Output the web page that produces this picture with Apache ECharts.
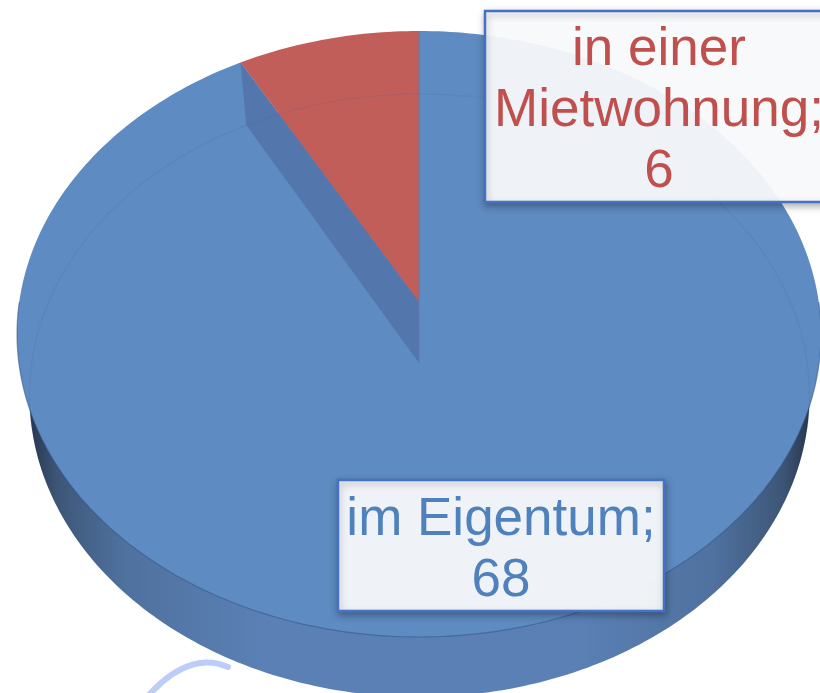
<!DOCTYPE html>
<html>
<head>
<meta charset="utf-8">
<title>Wohnsituation</title>
<style>
  html, body { margin: 0; padding: 0; background: #fff; }
  #chart { width: 820px; height: 693px; overflow: hidden; }
</style>
<script src="https://cdn.jsdelivr.net/npm/echarts@6/dist/echarts.min.js"></script>
</head>
<body>
<div id="chart"></div>
<script>
const categories = ['im Eigentum', 'in einer\nMietwohnung']
const values = [68, 6]

const total = values.reduce((a, b) => a + b, 0)

// top face and floor of the disc, k is the perspective shift of the centre
const topFace = { cx: 419, cy: 334, rx: 402, ry: 303 }
const floorFace = { cx: 419.5, cy: 395.5, rx: 390, ry: 301.5 }
const k = 0.1056

const sliceColors = ['#5e8bc1', '#c25e5a']
const textColors = ['#4f81bd', '#c0504d']
const labelBoxes = [
  { x: 338, y: 480, width: 326, height: 131, textY: 550.5 },
  { x: 485, y: 11, width: 350, height: 191, textY: 111.5, textX: 659 }
]

// fraction of the full turn (clockwise from 12 o'clock) to a pixel on the ellipse
function project (frac, face) {
  const a = frac * Math.PI * 2
  const X = Math.sin(a)
  const Y = Math.cos(a)
  const w = 1 + k * Y
  const u = Math.sqrt(1 - k * k) * X / w
  const v = (Y + k) / w
  return [face.cx + face.rx * u, face.cy - face.ry * v]
}

function arcPoints (from, to, face) {
  const steps = Math.max(2, Math.ceil((to - from) * 360))
  const pts = []
  for (let i = 0; i <= steps; i++) {
    pts.push(project(from + (to - from) * i / steps, face))
  }
  return pts
}

function centre (face) {
  return [face.cx, face.cy - face.ry * k]
}

const sideGradient = new echarts.graphic.LinearGradient(0, 0, 1, 0, [
  { offset: 0, color: '#27374f' },
  { offset: 0.035, color: '#3d5677' },
  { offset: 0.12, color: '#4f719e' },
  { offset: 0.3, color: '#5a80b5' },
  { offset: 0.7, color: '#5a80b5' },
  { offset: 0.88, color: '#4f719e' },
  { offset: 0.965, color: '#3d5677' },
  { offset: 1, color: '#27374f' }
])

function renderSlice (params, api) {
  const i = params.dataIndex
  const from = api.value(0) / total
  const to = api.value(1) / total
  const children = []

  if (i === 0) {
    // rim of the disc
    children.push({
      type: 'polygon',
      shape: { points: arcPoints(0, 1, floorFace) },
      style: { fill: sideGradient }
    })
  }

  children.push({
    type: 'polygon',
    shape: { points: [centre(topFace)].concat(arcPoints(from, to, topFace)) },
    style: { fill: sliceColors[i] }
  })

  if (i === 0) {
    // front edge of the top face
    children.push({
      type: 'polyline',
      shape: { points: arcPoints(0.25, 0.75, topFace) },
      style: { fill: null, stroke: 'rgba(50,85,135,0.55)', lineWidth: 1.2 }
    })
  } else {
    // cut face next to the small slice
    const a = project(from, topFace)
    const b = project(from, floorFace)
    children.push({
      type: 'polygon',
      shape: { points: [a, b, centre(floorFace), centre(topFace)] },
      style: { fill: '#5377ad' }
    })
    // far edge of the floor shows through the top face
    children.push({
      type: 'polyline',
      shape: { points: arcPoints(-0.285, 0.285, floorFace) },
      style: { fill: null, stroke: 'rgba(60,90,150,0.13)', lineWidth: 1.2 }
    })
    // blue seam on the vertical edge
    children.push({
      type: 'line',
      shape: { x1: topFace.cx, y1: project(0, topFace)[1], x2: topFace.cx, y2: centre(topFace)[1] },
      style: { stroke: 'rgba(80,120,180,0.7)', lineWidth: 1 }
    })
  }
  return { type: 'group', children: children }
}

function renderLabel (params, api) {
  const i = params.dataIndex
  const box = labelBoxes[i]
  return {
    type: 'group',
    children: [
      {
        type: 'rect',
        shape: { x: box.x, y: box.y, width: box.width, height: box.height },
        style: {
          fill: 'rgba(253,254,255,0.93)',
          stroke: '#4472c4',
          lineWidth: 2.5,
          shadowBlur: 7,
          shadowOffsetX: 1,
          shadowOffsetY: 3,
          shadowColor: 'rgba(0,0,0,0.3)'
        }
      },
      {
        type: 'text',
        style: {
          x: box.textX || box.x + box.width / 2,
          y: box.textY,
          text: categories[i] + ';\n' + api.value(0),
          fill: textColors[i],
          font: '53px "Liberation Sans", Arial, sans-serif',
          lineHeight: 61,
          align: 'center',
          verticalAlign: 'middle'
        }
      }
    ]
  }
}

const sliceData = []
let running = 0
values.forEach(v => {
  sliceData.push([running, running + v])
  running += v
})

const chart = echarts.init(document.getElementById('chart'), null, { renderer: 'canvas' })
chart.setOption({
  backgroundColor: '#ffffff',
  animation: false,
  tooltip: { show: false },
  // pen stroke left on the slide under the disc
  graphic: [{
    type: 'bezierCurve',
    z: 0,
    shape: { x1: 148, y1: 696, x2: 228, y2: 667, cpx1: 180, cpy1: 660, cpx2: 208, cpy2: 658 },
    style: { fill: null, stroke: '#bccdf8', lineWidth: 6, lineCap: 'round' }
  }],
  series: [
    {
      type: 'custom',
      coordinateSystem: 'none',
      z: 2,
      silent: true,
      data: sliceData,
      renderItem: renderSlice
    },
    {
      type: 'custom',
      coordinateSystem: 'none',
      z: 3,
      silent: true,
      data: values.map(v => [v]),
      renderItem: renderLabel
    }
  ]
})
</script>
</body>
</html>
